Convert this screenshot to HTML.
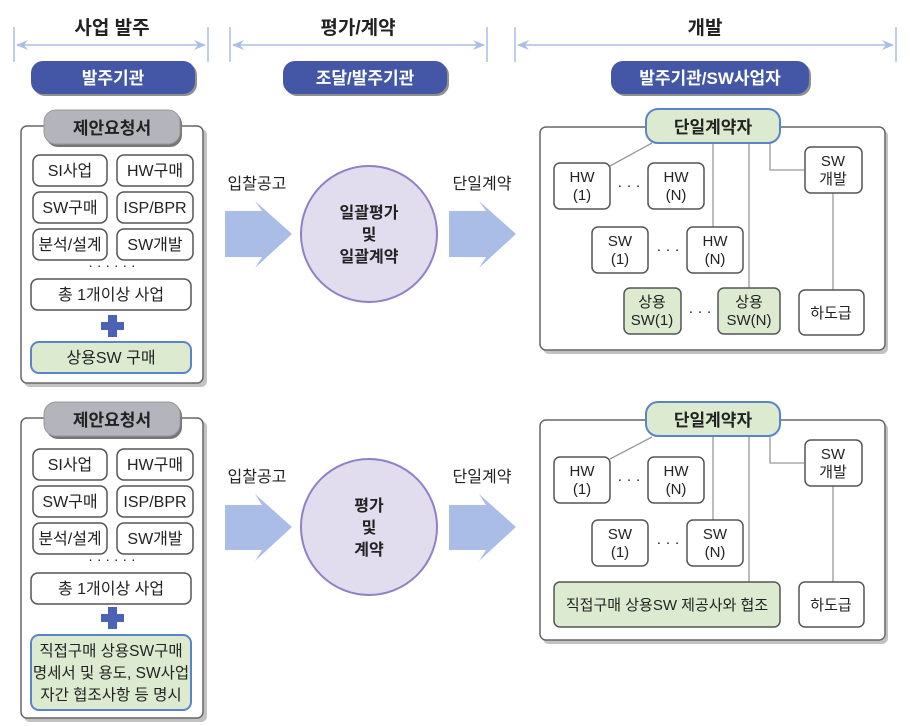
<!DOCTYPE html>
<html><head><meta charset="utf-8"><style>
html,body{margin:0;padding:0;background:#fff;}
svg{display:block;}
text{font-family:"Liberation Sans","Noto Sans CJK KR",sans-serif;fill:#222;}
.b{font-weight:bold;}
</style></head><body>
<svg width="910" height="726" viewBox="0 0 910 726" xmlns="http://www.w3.org/2000/svg">
<defs>
<marker id="ah" markerWidth="12" markerHeight="10" refX="11" refY="5" orient="auto-start-reverse" markerUnits="userSpaceOnUse"><path d="M0,0 L12,5 L0,10 L4,5 Z" fill="#a9bde6"/></marker>
</defs>

<!-- range headers -->
<g stroke="#a9bde6" stroke-width="1.5">
<line x1="14" y1="27" x2="14" y2="62"/><line x1="208" y1="27" x2="208" y2="62"/>
<line x1="17" y1="45" x2="205" y2="45" marker-start="url(#ah)" marker-end="url(#ah)"/>
<line x1="230" y1="27" x2="230" y2="62"/><line x1="487" y1="27" x2="487" y2="62"/>
<line x1="233" y1="45" x2="484" y2="45" marker-start="url(#ah)" marker-end="url(#ah)"/>
<line x1="515" y1="27" x2="515" y2="62"/><line x1="896" y1="27" x2="896" y2="62"/>
<line x1="518" y1="45" x2="893" y2="45" marker-start="url(#ah)" marker-end="url(#ah)"/>
</g>
<text x="112" y="34" font-size="19" text-anchor="middle" class="b" fill="#333">사업 발주</text>
<text x="358" y="34" font-size="19" text-anchor="middle" class="b" fill="#333">평가/계약</text>
<text x="705" y="34" font-size="19" text-anchor="middle" class="b" fill="#333">개발</text>

<!-- pills -->
<g>
<rect x="33" y="63" width="164" height="33" rx="12" fill="#222" opacity="0.5"/>
<rect x="31" y="61" width="164" height="33" rx="12" fill="#4357a6"/>
<text x="113" y="84" font-size="17" text-anchor="middle" class="b" fill="#fff" style="fill:#fff">발주기관</text>
<rect x="285" y="63" width="164" height="33" rx="12" fill="#222" opacity="0.5"/>
<rect x="283" y="61" width="164" height="33" rx="12" fill="#4357a6"/>
<text x="365" y="84" font-size="17" text-anchor="middle" class="b" style="fill:#fff">조달/발주기관</text>
<rect x="613" y="63" width="198" height="33" rx="12" fill="#222" opacity="0.5"/>
<rect x="611" y="61" width="198" height="33" rx="12" fill="#4357a6"/>
<text x="710" y="84" font-size="17" text-anchor="middle" class="b" style="fill:#fff">발주기관/SW사업자</text>
</g>

<!-- ===== TOP LEFT PANEL ===== -->
<rect x="24" y="129" width="183" height="258" rx="6" fill="#999" opacity="0.6"/>
<rect x="21" y="126" width="182" height="257" rx="6" fill="#fff" stroke="#666" stroke-width="1.5"/>
<rect x="46" y="112" width="136" height="35" rx="12" fill="#777"/>
<rect x="44" y="110" width="136" height="34" rx="12" fill="#b4b4bc" stroke="#999"/>
<text x="112" y="134" font-size="17" text-anchor="middle" class="b" fill="#333">제안요청서</text>

<g font-size="16">
<g fill="#fff" stroke="#555" stroke-width="1.5">
<rect x="33" y="155" width="74" height="31" rx="7"/><rect x="117" y="155" width="76" height="31" rx="7"/>
<rect x="33" y="192" width="74" height="31" rx="7"/><rect x="117" y="192" width="76" height="31" rx="7"/>
<rect x="33" y="229" width="74" height="31" rx="7"/><rect x="117" y="229" width="76" height="31" rx="7"/>
<rect x="31" y="279" width="160" height="31" rx="7"/>
</g>
<text x="70" y="176" text-anchor="middle">SI사업</text><text x="155" y="176" text-anchor="middle">HW구매</text>
<text x="70" y="213" text-anchor="middle">SW구매</text><text x="155" y="213" text-anchor="middle">ISP/BPR</text>
<text x="70" y="250" text-anchor="middle">분석/설계</text><text x="155" y="250" text-anchor="middle">SW개발</text>
<text x="112" y="270" text-anchor="middle" font-size="14">· · · · · ·</text>
<text x="111" y="300" text-anchor="middle">총 1개이상 사업</text>
</g>
<rect x="101" y="322" width="23" height="8" fill="#4d62b4"/><rect x="108" y="315" width="9" height="22" fill="#4d62b4"/>
<rect x="31" y="342" width="160" height="31" rx="8" fill="#dcebd0" stroke="#5b84c8" stroke-width="2"/>
<text x="111" y="363" font-size="16" text-anchor="middle">상용SW 구매</text>

<!-- ===== BOTTOM LEFT PANEL ===== -->
<rect x="24" y="421" width="183" height="301" rx="6" fill="#999" opacity="0.6"/>
<rect x="21" y="418" width="182" height="300" rx="6" fill="#fff" stroke="#666" stroke-width="1.5"/>
<rect x="46" y="404" width="136" height="35" rx="12" fill="#777"/>
<rect x="44" y="402" width="136" height="34" rx="12" fill="#b4b4bc" stroke="#999"/>
<text x="112" y="426" font-size="17" text-anchor="middle" class="b" fill="#333">제안요청서</text>

<g font-size="16">
<g fill="#fff" stroke="#555" stroke-width="1.5">
<rect x="33" y="449" width="74" height="31" rx="7"/><rect x="117" y="449" width="76" height="31" rx="7"/>
<rect x="33" y="486" width="74" height="31" rx="7"/><rect x="117" y="486" width="76" height="31" rx="7"/>
<rect x="33" y="523" width="74" height="31" rx="7"/><rect x="117" y="523" width="76" height="31" rx="7"/>
<rect x="31" y="573" width="160" height="31" rx="7"/>
</g>
<text x="70" y="470" text-anchor="middle">SI사업</text><text x="155" y="470" text-anchor="middle">HW구매</text>
<text x="70" y="507" text-anchor="middle">SW구매</text><text x="155" y="507" text-anchor="middle">ISP/BPR</text>
<text x="70" y="544" text-anchor="middle">분석/설계</text><text x="155" y="544" text-anchor="middle">SW개발</text>
<text x="112" y="564" text-anchor="middle" font-size="14">· · · · · ·</text>
<text x="111" y="594" text-anchor="middle">총 1개이상 사업</text>
</g>
<rect x="101" y="614" width="23" height="8" fill="#4d62b4"/><rect x="108" y="607" width="9" height="22" fill="#4d62b4"/>
<rect x="31" y="635" width="160" height="75" rx="8" fill="#dcebd0" stroke="#5b84c8" stroke-width="2"/>
<g font-size="15.5" text-anchor="middle">
<text x="111" y="656">직접구매 상용SW구매</text>
<text x="111" y="678">명세서 및 용도, SW사업</text>
<text x="111" y="700">자간 협조사항 등 명시</text>
</g>

<!-- ===== middle arrows & circles ===== -->
<g fill="#a9bde6">
<polygon points="225,211 262,211 255,201 292,234 255,268 262,257 225,257"/>
<polygon points="449,211 486,211 479,201 516,234 479,268 486,257 449,257"/>
<polygon points="225,505 262,505 255,494 292,527 255,561 262,550 225,550"/>
<polygon points="449,505 486,505 479,494 516,527 479,561 486,550 449,550"/>
</g>
<g font-size="16">
<text x="257" y="189" text-anchor="middle">입찰공고</text>
<text x="482" y="189" text-anchor="middle">단일계약</text>
<text x="257" y="482" text-anchor="middle">입찰공고</text>
<text x="482" y="482" text-anchor="middle">단일계약</text>
</g>
<circle cx="369" cy="234" r="68" fill="#e2dcef" stroke="#9080c4" stroke-width="2"/>
<g font-size="16" class="b" text-anchor="middle" fill="#333">
<text x="369" y="218">일괄평가</text><text x="369" y="240">및</text><text x="369" y="262">일괄계약</text>
</g>
<circle cx="369" cy="527" r="68" fill="#e2dcef" stroke="#9080c4" stroke-width="2"/>
<g font-size="16" class="b" text-anchor="middle" fill="#333">
<text x="369" y="511">평가</text><text x="369" y="533">및</text><text x="369" y="555">계약</text>
</g>

<!-- ===== TOP RIGHT PANEL ===== -->
<rect x="543" y="130" width="345" height="224" rx="6" fill="#999" opacity="0.6"/>
<rect x="540" y="127" width="345" height="223" rx="6" fill="#fff" stroke="#666" stroke-width="1.5"/>
<g stroke="#999" stroke-width="1.3" fill="none">
<line x1="652" y1="143" x2="610" y2="166"/>
<line x1="713" y1="143" x2="713" y2="227"/>
<line x1="749" y1="143" x2="749" y2="288"/>
<polyline points="770,143 770,170 804,170"/>
<line x1="833" y1="193" x2="833" y2="290"/>
</g>
<g fill="#fff" stroke="#555" stroke-width="1.5">
<rect x="554" y="163" width="56" height="46" rx="6"/>
<rect x="648" y="163" width="56" height="46" rx="6"/>
<rect x="592" y="227" width="56" height="46" rx="6"/>
<rect x="687" y="227" width="56" height="46" rx="6"/>
<rect x="805" y="147" width="57" height="46" rx="6"/>
<rect x="799" y="290" width="65" height="45" rx="6"/>
</g>
<rect x="624" y="288" width="57" height="46" rx="6" fill="#dcebd0" stroke="#555" stroke-width="1.5"/>
<rect x="718" y="288" width="62" height="46" rx="6" fill="#dcebd0" stroke="#555" stroke-width="1.5"/>
<rect x="646" y="109" width="134" height="34" rx="12" fill="#dcebd0" stroke="#5b84c8" stroke-width="2"/>
<text x="713" y="133" font-size="17" class="b" text-anchor="middle" fill="#333">단일계약자</text>
<g font-size="15" text-anchor="middle">
<text x="582" y="182">HW</text><text x="582" y="200">(1)</text>
<text x="676" y="182">HW</text><text x="676" y="200">(N)</text>
<text x="620" y="246">SW</text><text x="620" y="264">(1)</text>
<text x="715" y="246">HW</text><text x="715" y="264">(N)</text>
<text x="833" y="166">SW</text><text x="833" y="184">개발</text>
<text x="652" y="307">상용</text><text x="652" y="325">SW(1)</text>
<text x="749" y="307">상용</text><text x="749" y="325">SW(N)</text>
<text x="831" y="318">하도급</text>
<text x="629" y="190">· · ·</text><text x="668" y="254">· · ·</text><text x="700" y="316">· · ·</text>
</g>

<!-- ===== BOTTOM RIGHT PANEL ===== -->
<rect x="543" y="423" width="345" height="221" rx="6" fill="#999" opacity="0.6"/>
<rect x="540" y="420" width="345" height="220" rx="6" fill="#fff" stroke="#666" stroke-width="1.5"/>
<g stroke="#999" stroke-width="1.3" fill="none">
<line x1="652" y1="437" x2="610" y2="459"/>
<line x1="713" y1="437" x2="713" y2="520"/>
<line x1="749" y1="437" x2="749" y2="582"/>
<polyline points="770,437 770,463 804,463"/>
<line x1="833" y1="486" x2="833" y2="582"/>
</g>
<g fill="#fff" stroke="#555" stroke-width="1.5">
<rect x="554" y="457" width="56" height="46" rx="6"/>
<rect x="648" y="457" width="56" height="46" rx="6"/>
<rect x="592" y="520" width="56" height="46" rx="6"/>
<rect x="687" y="520" width="56" height="46" rx="6"/>
<rect x="805" y="440" width="57" height="46" rx="6"/>
<rect x="799" y="582" width="65" height="45" rx="6"/>
</g>
<rect x="554" y="582" width="226" height="45" rx="6" fill="#dcebd0" stroke="#555" stroke-width="1.5"/>
<rect x="646" y="402" width="134" height="34" rx="12" fill="#dcebd0" stroke="#5b84c8" stroke-width="2"/>
<text x="713" y="426" font-size="17" class="b" text-anchor="middle" fill="#333">단일계약자</text>
<g font-size="15" text-anchor="middle">
<text x="582" y="476">HW</text><text x="582" y="494">(1)</text>
<text x="676" y="476">HW</text><text x="676" y="494">(N)</text>
<text x="620" y="539">SW</text><text x="620" y="557">(1)</text>
<text x="715" y="539">SW</text><text x="715" y="557">(N)</text>
<text x="833" y="459">SW</text><text x="833" y="477">개발</text>
<text x="667" y="610">직접구매 상용SW 제공사와 협조</text>
<text x="831" y="610">하도급</text>
<text x="629" y="484">· · ·</text><text x="668" y="547">· · ·</text>
</g>
</svg>
</body></html>
